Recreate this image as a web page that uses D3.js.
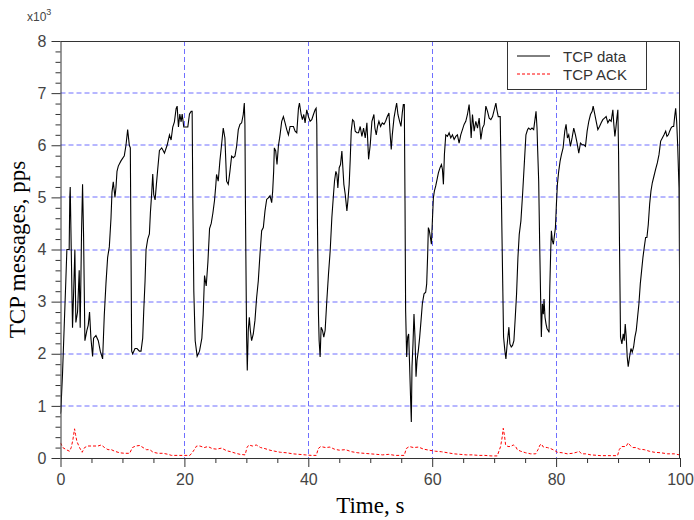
<!DOCTYPE html>
<html>
<head>
<meta charset="utf-8">
<script src="https://cdn.jsdelivr.net/npm/d3@7"></script>
<style>
  body { margin: 0; background: #fff; }
  svg { display: block; }
</style>
</head>
<body>
<div id="chart"></div>
<script>
// TCP data, thousands of pps, [time s, value]
var tcpData = [
  [0,0.85],[0.05,0.9],[0.32,1.6],[0.59,2.5],[0.86,3.4],[1.03,4.0],[1.4,4.0],[1.5,5.0],[1.57,5.2],[1.94,2.5],
  [2.1,3.1],[2.32,4.0],[2.48,2.6],[2.75,2.8],[3.02,3.6],[3.18,2.5],[3.4,4.35],[3.56,5.25],[3.72,4.3],[3.94,2.25],
  [4.26,2.45],[4.48,2.55],[4.69,2.8],[4.91,2.3],[5.18,1.95],[5.34,2.3],[5.72,2.35],[6.1,2.25],[6.42,2.05],[6.8,1.9],
  [7.07,2.75],[7.34,3.35],[7.61,3.85],[7.88,4.05],[8.15,4.6],[8.31,5.1],[8.52,5.3],[8.79,5.0],[8.96,5.2],[9.12,5.5],
  [9.33,5.6],[9.76,5.7],[10.3,5.8],[10.57,6.0],[10.84,6.3],[11.11,6.0],[11.27,5.95],[11.49,2.05],[11.65,2.0],[12.03,2.1],
  [12.35,2.1],[12.73,2.05],[13.0,2.05],[13.27,2.3],[13.43,2.8],[13.65,3.4],[13.81,4.0],[14.08,4.2],[14.35,4.3],[14.51,4.7],
  [14.73,5.1],[14.89,5.45],[15.05,5.05],[15.27,4.95],[15.48,5.25],[15.7,5.55],[15.97,5.9],[16.34,5.95],[16.78,5.85],[17.21,6.0],
  [17.59,6.2],[17.85,6.1],[18.12,6.35],[18.39,6.45],[18.66,6.7],[18.83,6.75],[19.04,6.35],[19.26,6.6],[19.47,6.45],[19.64,6.6],
  [19.9,6.35],[20.28,6.35],[20.55,6.35],[20.82,6.6],[21.09,6.65],[21.25,6.65],[21.36,4.95],[21.52,3.2],[21.74,2.25],[22.06,1.95],
  [22.44,2.05],[22.82,2.3],[23.03,2.75],[23.25,3.5],[23.52,3.3],[23.79,3.75],[24.06,4.4],[24.33,4.5],[24.6,4.7],[24.87,4.95],
  [25.08,5.25],[25.19,5.44],[25.46,5.31],[25.73,5.7],[26.0,6.01],[26.27,6.33],[26.54,6.14],[26.81,5.31],[27.08,5.25],[27.35,5.5],
  [27.62,5.79],[27.89,5.76],[28.16,5.79],[28.43,5.98],[28.7,6.3],[28.97,6.4],[29.24,6.43],[29.5,6.59],[29.67,6.81],[29.77,6.4],
  [29.88,4.42],[30.04,2.32],[30.15,1.68],[30.31,2.45],[30.48,2.7],[30.64,2.45],[30.85,2.25],[31.12,2.38],[31.39,2.64],[31.66,3.08],
  [31.93,3.4],[32.2,3.91],[32.47,4.36],[32.74,4.42],[33.01,4.74],[33.28,4.96],[33.55,4.99],[33.82,5.03],[34.09,4.9],[34.25,5.12],
  [34.41,5.5],[34.52,5.95],[34.74,5.89],[34.95,5.63],[35.17,5.98],[35.44,6.2],[35.71,6.46],[35.98,6.55],[36.25,6.43],[36.52,6.3],
  [36.79,6.2],[37.06,6.36],[37.33,6.36],[37.6,6.36],[37.87,6.27],[38.14,6.24],[38.41,6.71],[38.57,6.81],[38.84,6.59],[39.05,6.49],
  [39.27,6.59],[39.48,6.43],[39.75,6.68],[40.02,6.55],[40.29,6.46],[40.56,6.49],[40.83,6.59],[41.1,6.68],[41.26,6.71],[41.37,6.4],
  [41.48,4.48],[41.64,2.76],[41.75,2.25],[41.91,1.94],[42.07,2.51],[42.29,2.45],[42.5,2.32],[42.72,2.45],[42.99,3.02],[43.26,3.53],
  [43.53,3.97],[43.8,4.61],[44.07,5.06],[44.23,5.31],[44.45,5.5],[44.61,5.44],[44.77,5.18],[44.99,5.57],[45.2,5.63],[45.42,5.89],
  [45.58,5.57],[45.74,5.25],[45.96,5.06],[46.23,4.74],[46.39,4.93],[46.6,5.25],[46.77,5.73],[46.93,6.27],[47.14,6.49],[47.36,6.46],
  [47.57,6.27],[47.84,6.24],[48.11,6.24],[48.38,6.36],[48.65,6.17],[48.92,6.33],[49.19,6.14],[49.46,6.43],[49.73,5.73],[50.0,6.01],
  [50.27,6.46],[50.59,6.59],[50.75,6.33],[50.97,6.2],[51.18,6.36],[51.4,6.46],[51.67,6.36],[51.94,6.43],[52.21,6.4],[52.48,6.46],
  [52.75,6.55],[53.02,6.62],[53.18,6.27],[53.39,5.92],[53.56,6.2],[53.83,6.52],[54.1,6.71],[54.26,6.81],[54.47,6.59],[54.74,6.46],
  [54.96,6.36],[55.17,6.62],[55.34,6.78],[55.5,6.78],[55.61,4.93],[55.71,2.83],[55.88,1.94],[56.04,2.32],[56.2,2.38],[56.36,1.75],
  [56.52,1.11],[56.63,0.69],[56.74,1.75],[56.9,2.19],[57.06,2.76],[57.22,2.32],[57.39,1.56],[57.55,1.87],[57.76,2.06],[57.98,2.32],
  [58.2,2.64],[58.41,2.96],[58.68,3.15],[58.95,3.18],[59.11,3.34],[59.27,3.91],[59.38,4.42],[59.54,4.36],[59.71,4.23],[59.87,4.1],
  [60.03,4.55],[60.19,4.99],[60.35,5.12],[60.57,5.22],[60.78,5.34],[61.0,5.47],[61.27,5.57],[61.49,5.63],[61.65,5.54],[61.81,5.25],
  [61.97,5.82],[62.19,6.2],[62.46,6.17],[62.73,6.24],[63.0,6.14],[63.27,6.2],[63.54,6.11],[63.81,6.17],[64.07,6.2],[64.34,6.04],
  [64.61,6.2],[64.88,6.3],[65.15,6.4],[65.42,6.46],[65.69,6.59],[65.96,6.78],[66.12,6.52],[66.29,6.14],[66.5,6.59],[66.77,6.27],
  [67.04,6.46],[67.31,6.33],[67.58,6.52],[67.85,6.11],[68.12,6.33],[68.39,6.4],[68.66,6.75],[68.93,6.65],[69.2,6.52],[69.47,6.49],
  [69.74,6.55],[70.01,6.68],[70.28,6.81],[70.44,6.68],[70.66,6.55],[70.98,6.55],[71.14,5.25],[71.36,3.53],[71.52,2.32],[71.73,2.06],
  [71.9,1.9],[72.06,2.13],[72.22,2.32],[72.38,2.51],[72.54,2.19],[72.76,2.13],[72.97,2.16],[73.19,2.25],[73.41,2.7],[73.62,3.15],
  [73.84,3.85],[74.05,4.29],[74.32,4.55],[74.59,5.06],[74.86,5.63],[75.13,6.2],[75.4,6.3],[75.57,6.33],[75.84,6.3],[76.11,6.33],
  [76.38,6.3],[76.65,6.55],[76.76,6.65],[76.92,6.33],[77.03,5.89],[77.19,5.31],[77.35,4.1],[77.51,3.02],[77.62,2.32],[77.78,2.96],
  [77.94,2.76],[78.05,3.05],[78.21,2.7],[78.38,2.57],[78.54,2.48],[78.7,2.45],[78.86,2.41],[78.97,3.21],[79.13,3.97],[79.24,4.36],
  [79.4,4.17],[79.56,4.1],[79.72,4.26],[79.89,4.42],[80.05,4.87],[80.21,5.25],[80.42,5.5],[80.64,5.69],[80.86,5.82],[81.13,5.95],
  [81.4,6.27],[81.61,6.4],[81.83,6.14],[82.04,6.2],[82.31,5.98],[82.58,6.14],[82.85,6.33],[83.12,6.2],[83.39,6.04],[83.66,5.85],
  [83.93,6.04],[84.2,6.01],[84.47,6.01],[84.74,5.98],[85.01,6.27],[85.28,6.46],[85.55,6.59],[85.82,6.65],[85.98,6.75],[86.2,6.62],
  [86.47,6.46],[86.74,6.3],[87.01,6.36],[87.28,6.43],[87.54,6.49],[87.81,6.52],[88.08,6.55],[88.35,6.43],[88.62,6.49],[88.89,6.46],
  [89.16,6.68],[89.32,6.4],[89.49,6.17],[89.65,6.33],[89.81,6.52],[89.97,6.68],[90.08,5.89],[90.24,4.04],[90.4,2.32],[90.62,2.19],
  [90.84,2.38],[91.0,2.25],[91.16,2.57],[91.32,2.32],[91.48,1.94],[91.64,1.75],[91.86,1.94],[92.08,2.1],[92.29,2.03],[92.51,2.13],
  [92.72,2.32],[92.94,2.45],[93.15,2.7],[93.37,2.96],[93.59,3.34],[93.8,3.59],[94.02,3.85],[94.23,4.04],[94.45,4.23],[94.66,4.23],
  [94.88,4.48],[95.1,4.87],[95.31,5.12],[95.53,5.28],[95.8,5.41],[96.07,5.54],[96.34,5.66],[96.61,5.82],[96.88,6.08],[97.15,6.14],
  [97.42,6.2],[97.69,6.27],[97.9,6.17],[98.12,6.2],[98.33,6.27],[98.55,6.33],[98.76,6.36],[98.98,6.36],[99.14,6.55],[99.3,6.71],
  [99.46,6.46],[99.63,5.98],[99.84,5.18],[100,2.25]
];

// TCP ACK, thousands of pps
var tcpAck = [
  [0,0.29],[0.37,0.2],[0.92,0.16],[1.46,0.13],[1.73,0.2],[2.0,0.35],[2.27,0.56],[2.43,0.45],[2.64,0.32],[3.07,0.2],
  [3.5,0.11],[3.88,0.2],[4.42,0.23],[5.23,0.23],[6.04,0.23],[6.58,0.25],[7.12,0.2],[7.66,0.16],[8.2,0.16],[8.74,0.13],
  [9.55,0.1],[10.36,0.09],[11.17,0.09],[11.6,0.2],[12.14,0.23],[12.79,0.24],[13.33,0.2],[13.87,0.16],[14.41,0.16],[14.95,0.11],
  [15.76,0.09],[16.57,0.09],[17.38,0.07],[17.92,0.05],[19.27,0.05],[20.89,0.05],[21.43,0.13],[21.97,0.23],[22.5,0.23],[23.2,0.2],
  [23.8,0.22],[24.5,0.18],[25.2,0.17],[26.0,0.19],[26.8,0.14],[27.5,0.12],[28.3,0.09],[29.0,0.07],[29.8,0.06],[30.1,0.2],
  [30.4,0.25],[31.0,0.23],[31.6,0.25],[32.3,0.2],[33.0,0.18],[33.8,0.15],[34.6,0.13],[35.5,0.11],[36.5,0.1],[37.5,0.08],
  [38.5,0.07],[39.5,0.06],[40.5,0.05],[41.3,0.05],[41.6,0.18],[42.0,0.22],[42.8,0.2],[43.5,0.21],[44.2,0.17],[45.0,0.15],
  [46.0,0.16],[47.0,0.12],[48.0,0.1],[49.0,0.09],[50.0,0.08],[51.0,0.07],[52.0,0.06],[53.0,0.07],[54.0,0.05],[55.5,0.05],
  [55.8,0.18],[56.3,0.22],[57.0,0.2],[57.8,0.21],[58.6,0.17],[59.5,0.15],[60.5,0.13],[61.5,0.12],[62.5,0.1],[63.5,0.08],
  [64.5,0.07],[65.5,0.06],[66.5,0.06],[67.5,0.05],[68.5,0.05],[69.5,0.04],[70.5,0.04],[71.04,0.22],[71.31,0.41],[71.47,0.57],
  [71.69,0.41],[71.85,0.25],[72.23,0.22],[72.66,0.22],[73.09,0.25],[73.47,0.22],[73.74,0.16],[74.28,0.13],[75.09,0.1],[75.9,0.08],
  [76.7,0.08],[77.08,0.16],[77.4,0.25],[77.62,0.27],[77.94,0.21],[78.59,0.2],[79.13,0.18],[79.67,0.15],[80.21,0.11],[81.02,0.1],
  [81.83,0.08],[82.64,0.09],[83.34,0.11],[83.72,0.13],[84.1,0.08],[84.8,0.08],[85.6,0.06],[87.22,0.045],[88.84,0.045],[89.92,0.045],
  [90.19,0.16],[90.57,0.22],[91.27,0.22],[91.65,0.29],[91.97,0.24],[92.35,0.2],[92.89,0.2],[93.43,0.17],[94.23,0.16],[95.04,0.13],
  [95.85,0.11],[96.93,0.1],[98.01,0.08],[99.09,0.08],[99.9,0.06]
];

var xMajor = [0, 20, 40, 60, 80, 100];
var yMajor = [0, 1, 2, 3, 4, 5, 6, 7, 8];
var seriesNames = ["TCP data", "TCP ACK"];
var seriesColors = ["#000", "#ff0000"];
var seriesDash = [null, "3,2"];

var width = 694, height = 520;
var plotLeft = 60.5, plotRight = 680, plotTop = 41, plotBottom = 458;

var svg = d3.select("#chart").append("svg")
    .attr("width", width)
    .attr("height", height);

var x = d3.scaleLinear().domain([0, 100]).range([plotLeft, plotRight]);
var y = d3.scaleLinear().domain([0, 8]).range([plotBottom, plotTop]);

// grid
var grid = svg.append("g")
    .attr("stroke", "#6f6fff")
    .attr("stroke-width", 1)
    .attr("stroke-dasharray", "5,3");
grid.selectAll(".gx")
    .data(xMajor.slice(1, -1))
    .enter().append("line")
    .attr("x1", function (d) { return Math.round(x(d)) + 0.5; })
    .attr("x2", function (d) { return Math.round(x(d)) + 0.5; })
    .attr("y1", plotTop).attr("y2", plotBottom);
grid.selectAll(".gy")
    .data(yMajor.slice(1, -1))
    .enter().append("line")
    .attr("y1", function (d) { return Math.round(y(d)); })
    .attr("y2", function (d) { return Math.round(y(d)); })
    .attr("x1", plotLeft).attr("x2", plotRight);

// series
svg.append("clipPath").attr("id", "clip")
    .append("rect")
    .attr("x", plotLeft).attr("y", plotTop)
    .attr("width", plotRight - plotLeft).attr("height", plotBottom - plotTop);

var line = d3.line()
    .x(function (d) { return x(d[0]); })
    .y(function (d) { return y(d[1]); });

svg.append("path")
    .datum(tcpAck)
    .attr("clip-path", "url(#clip)")
    .attr("fill", "none")
    .attr("stroke", seriesColors[1])
    .attr("stroke-width", 1)
    .attr("stroke-dasharray", seriesDash[1])
    .attr("d", line);

svg.append("path")
    .datum(tcpData)
    .attr("clip-path", "url(#clip)")
    .attr("fill", "none")
    .attr("stroke", seriesColors[0])
    .attr("stroke-width", 1.1)
    .attr("d", line);

// axes
var axisColor = "#333";
svg.append("g")
    .attr("transform", "translate(0," + plotBottom + ")")
    .call(d3.axisBottom(x).tickValues(xMajor).tickSize(9).tickPadding(7).tickSizeOuter(0));
svg.append("g")
    .attr("transform", "translate(0," + plotBottom + ")")
    .call(d3.axisBottom(x).tickValues(d3.range(5, 100, 5).filter(function (v) { return v % 20 != 0; }))
        .tickSize(5).tickFormat("").tickSizeOuter(0))
    .select(".domain").remove();

svg.append("g")
    .attr("transform", "translate(" + plotLeft + ",0)")
    .call(d3.axisLeft(y).tickValues(yMajor).tickSize(9).tickPadding(5).tickSizeOuter(0));
svg.append("g")
    .attr("transform", "translate(" + plotLeft + ",0)")
    .call(d3.axisLeft(y).tickValues(d3.range(0.2, 8, 0.2).filter(function (v) { return Math.abs(v - Math.round(v)) > 0.01; }))
        .tickSize(5).tickFormat("").tickSizeOuter(0))
    .select(".domain").remove();

svg.selectAll(".tick line").attr("stroke", axisColor);
svg.selectAll(".domain").attr("stroke", axisColor);
svg.selectAll(".tick text")
    .attr("fill", "#444")
    .style("font-family", "'Liberation Sans', Arial, sans-serif")
    .style("font-size", "16px");

// frame top & right
svg.append("path")
    .attr("fill", "none")
    .attr("stroke", axisColor)
    .attr("d", "M" + plotLeft + "," + (plotTop + 0.5) + "H" + (plotRight - 0.5) + "V" + plotBottom);

// exponent label
var expo = svg.append("text")
    .attr("x", 27).attr("y", 21)
    .attr("fill", "#444")
    .style("font-family", "'Liberation Sans', Arial, sans-serif")
    .style("font-size", "12px");
expo.append("tspan").text("x10");
expo.append("tspan").attr("dy", -6).style("font-size", "9px").text("3");

// axis titles
svg.append("text")
    .attr("x", (plotLeft + plotRight) / 2).attr("y", 513)
    .attr("text-anchor", "middle")
    .style("font-family", "'Liberation Serif', 'Times New Roman', serif")
    .style("font-size", "23px")
    .text("Time, s");
svg.append("text")
    .attr("transform", "translate(25," + ((plotTop + plotBottom) / 2) + ") rotate(-90)")
    .attr("text-anchor", "middle")
    .style("font-family", "'Liberation Serif', 'Times New Roman', serif")
    .style("font-size", "23px")
    .text("TCP messages, pps");

// legend
var legendItems = seriesNames.map(function (n, i) {
    return { name: n, color: seriesColors[i], dash: seriesDash[i] };
});
var legend = svg.append("g");
legend.append("rect")
    .attr("x", 507.5).attr("y", 41.5)
    .attr("width", 139).attr("height", 48)
    .attr("fill", "#fff")
    .attr("stroke", axisColor);
var entry = legend.selectAll(".entry")
    .data(legendItems)
    .enter().append("g")
    .attr("transform", function (d, i) { return "translate(0," + (56 + i * 18) + ")"; });
entry.append("line")
    .attr("x1", 517).attr("x2", 550)
    .attr("y1", 0).attr("y2", 0)
    .attr("stroke", function (d) { return d.color; })
    .attr("stroke-width", 1)
    .attr("stroke-dasharray", function (d) { return d.dash; });
entry.append("text")
    .attr("x", 563).attr("y", 5.5)
    .attr("fill", "#333")
    .style("font-family", "'Liberation Sans', Arial, sans-serif")
    .style("font-size", "15px")
    .text(function (d) { return d.name; });
</script>
</body>
</html>
